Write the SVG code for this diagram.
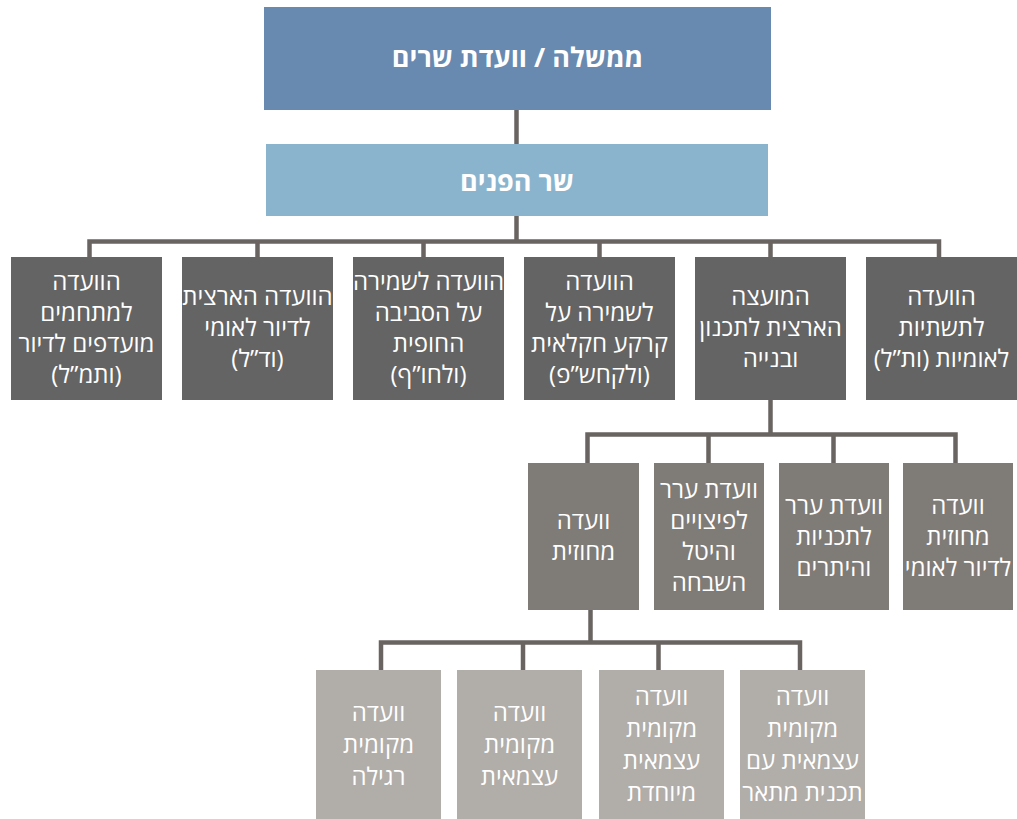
<svg xmlns="http://www.w3.org/2000/svg" width="1017" height="819" viewBox="0 0 1017 819">
<style>
.t{font-family:"Open Sans","Liberation Sans","DejaVu Sans",sans-serif;font-size:24px;fill:#ffffff;text-anchor:middle;direction:rtl}
.b{font-weight:bold;font-size:27px}
.c{fill:none;stroke:#696461;stroke-width:4.5;stroke-linejoin:miter}
.n0{fill:#6889B0}
.n1{fill:#8AB4CE}
.r1{fill:#646464}
.r2{fill:#7F7B77}
.r3{fill:#B1ADA9}
</style>
<rect width="1017" height="819" fill="#ffffff"/>
<g id="connectors">
<path class="c" d="M516.5 110V144"/>
<path class="c" d="M516.5 216V241.5"/>
<path class="c" d="M89.5 258V241.5H939V258"/>
<path class="c" d="M257.5 241.5V258M423.5 241.5V258M599.5 241.5V258M770.5 241.5V258"/>
<path class="c" d="M770.5 400V434.5"/>
<path class="c" d="M587.5 463V434.5H955.5V463"/>
<path class="c" d="M708.5 434.5V463M833.5 434.5V463"/>
<path class="c" d="M590.5 610V642.5"/>
<path class="c" d="M381 670V642.5H800V670"/>
<path class="c" d="M523 642.5V670M658.5 642.5V670"/>
</g>
<g id="gov"><rect class="n0" x="264" y="7" width="507" height="103"/><text class="t b" x="517.5" y="67">ממשלה / וועדת שרים</text></g>
<g id="interior"><rect class="n1" x="266" y="144" width="502" height="72"/><text class="t b" x="517" y="191">שר הפנים</text></g>

<g id="vatmal"><rect class="r1" x="11" y="257" width="151" height="143"/>
<text class="t" x="86.5" y="289.5">הוועדה</text><text class="t" x="86.5" y="320.5">למתחמים</text><text class="t" x="86.5" y="351.5">מועדפים לדיור</text><text class="t" x="86.5" y="382.5">(ותמ”ל)</text></g>
<g id="vadal"><rect class="r1" x="182" y="257" width="151" height="143"/>
<text class="t" x="257.5" y="305">הוועדה הארצית</text><text class="t" x="257.5" y="336">לדיור לאומי</text><text class="t" x="257.5" y="367">(וד”ל)</text></g>
<g id="vlahof"><rect class="r1" x="353" y="257" width="151" height="143"/>
<text class="t" x="428.5" y="289.5">הוועדה לשמירה</text><text class="t" x="428.5" y="320.5">על הסביבה</text><text class="t" x="428.5" y="351.5">החופית</text><text class="t" x="428.5" y="382.5">(ולחו”ף)</text></g>
<g id="valkahshap"><rect class="r1" x="524" y="257" width="151" height="143"/>
<text class="t" x="599.5" y="289.5">הוועדה</text><text class="t" x="599.5" y="320.5">לשמירה על</text><text class="t" x="599.5" y="351.5">קרקע חקלאית</text><text class="t" x="599.5" y="382.5">(ולקחש”פ)</text></g>
<g id="national-council"><rect class="r1" x="695" y="257" width="151" height="143"/>
<text class="t" x="770.5" y="305">המועצה</text><text class="t" x="770.5" y="336">הארצית לתכנון</text><text class="t" x="770.5" y="367">ובנייה</text></g>
<g id="vatal"><rect class="r1" x="866" y="257" width="151" height="143"/>
<text class="t" x="941.5" y="305">הוועדה</text><text class="t" x="941.5" y="336">לתשתיות</text><text class="t" x="941.5" y="367">לאומיות (ות”ל)</text></g>

<g id="district"><rect class="r2" x="528" y="463" width="111" height="147"/>
<text class="t" x="583.5" y="529">וועדה</text><text class="t" x="583.5" y="560">מחוזית</text></g>
<g id="appeal-comp"><rect class="r2" x="654" y="463" width="110" height="147"/>
<text class="t" x="709" y="497.5">וועדת ערר</text><text class="t" x="709" y="528.5">לפיצויים</text><text class="t" x="709" y="559.5">והיטל</text><text class="t" x="709" y="590.5">השבחה</text></g>
<g id="appeal-plans"><rect class="r2" x="779" y="463" width="110" height="147"/>
<text class="t" x="834" y="513.5">וועדת ערר</text><text class="t" x="834" y="544.5">לתכניות</text><text class="t" x="834" y="575.5">והיתרים</text></g>
<g id="district-housing"><rect class="r2" x="903" y="463" width="110" height="147"/>
<text class="t" x="958" y="513.5">וועדה</text><text class="t" x="958" y="544.5">מחוזית</text><text class="t" x="958" y="575.5">לדיור לאומי</text></g>

<g id="local-regular"><rect class="r3" x="316" y="670" width="125" height="149"/>
<text class="t" x="378.5" y="721">וועדה</text><text class="t" x="378.5" y="753">מקומית</text><text class="t" x="378.5" y="785">רגילה</text></g>
<g id="local-indep"><rect class="r3" x="457" y="670" width="125" height="149"/>
<text class="t" x="519.5" y="721">וועדה</text><text class="t" x="519.5" y="753">מקומית</text><text class="t" x="519.5" y="785">עצמאית</text></g>
<g id="local-special"><rect class="r3" x="599" y="670" width="125" height="149"/>
<text class="t" x="661.5" y="705">וועדה</text><text class="t" x="661.5" y="737">מקומית</text><text class="t" x="661.5" y="769">עצמאית</text><text class="t" x="661.5" y="801">מיוחדת</text></g>
<g id="local-master"><rect class="r3" x="740" y="670" width="125" height="149"/>
<text class="t" x="802.5" y="705">וועדה</text><text class="t" x="802.5" y="737">מקומית</text><text class="t" x="802.5" y="769">עצמאית עם</text><text class="t" x="802.5" y="801">תכנית מתאר</text></g>
</svg>
